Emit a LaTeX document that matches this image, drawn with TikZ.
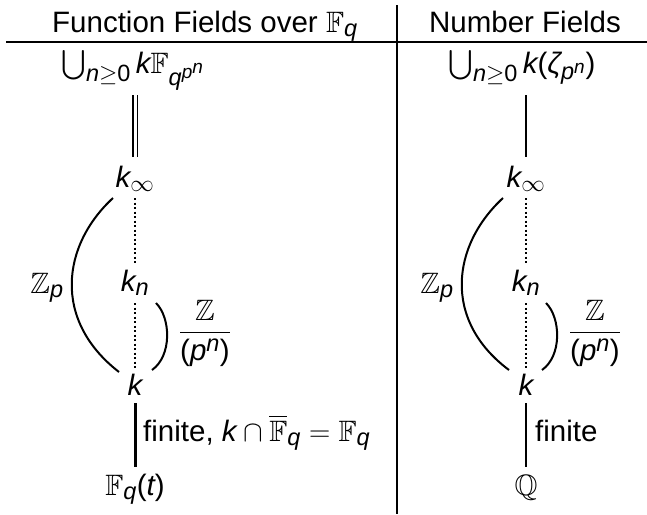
\RequirePackage{fix-cm}
\documentclass[tikz,border=0pt]{standalone}
\usepackage{amsmath,amssymb}
\usepackage{fontspec}
\setmainfont{Liberation Sans}
\DeclareMathSizes{29.5}{29.5}{23.5}{19}
\newcommand\iv[1]{\text{\itshape #1}}
\newcommand\up[1]{\text{\upshape #1}}
\begin{document}
\begin{tikzpicture}[x=1pt,y=-1pt,
  lbl/.style={font=\fontsize{29.5}{35}\selectfont, inner sep=0pt, anchor=base},
  toplbl/.style={lbl, text height=22pt, text depth=6pt},
  edge/.style={line width=2pt},
  dots/.style={line width=2pt, dash pattern=on 2pt off 2.5pt},
  dbl/.style={line width=1.8pt, double distance=3pt},
  rule/.style={line width=2.2pt}]
\useasboundingbox (0,0) rectangle (647,514);
% table rules
\node[lbl,anchor=base west] (hL) at (52,32) {Function Fields over $\mathbb{F}_{\iv{q}}$};
\node[lbl] (hR) at (525,32) {Number Fields};
\draw[rule] (6,42) -- (647,42);
\draw[line width=2pt] (397,5) -- (397,514);
% left column
\node[toplbl] (topL) at (133,73) {$\bigcup_{\iv{n}\geq\up{0}}\iv{k}\mathbb{F}_{\iv{q}^{\iv{p}^{\iv{n}}}}$};
\node[lbl] (kiL) at (135,187) {$\iv{k}_\infty$};
\node[lbl] (knL) at (135,291) {$\iv{k}_{\iv{n}}$};
\node[lbl] (kL) at (135,395) {$\iv{k}$};
\node[lbl] (FL) at (135,495) {$\mathbb{F}_{\iv{q}}\up{(}\iv{t}\up{)}$};
\node[lbl] (ZpL) at (47,293) {$\mathbb{Z}_{\iv{p}}$};
\node[lbl] (frL) at (205,340) {$\dfrac{\mathbb{Z}}{\up{(}\iv{p}^{\iv{n}}\up{)}}$};
\node[lbl,anchor=base west] (finL) at (143,441) {finite, $\iv{k}\cap\overline{\mathbb{F}}_{\iv{q}}=\mathbb{F}_{\iv{q}}$};
\draw[dbl] ([yshift=-22pt]kiL.base |- topL.base) -- ([yshift=30pt]kiL.base);
\draw[dots] ([yshift=-11pt]kiL.base) -- ([yshift=28pt]knL.base);
\draw[dots] ([yshift=-12pt]knL.base) -- ([yshift=27pt]kL.base);
\draw[line width=3pt] ([yshift=-8pt]kL.base) -- ([yshift=28pt]FL.base);
\draw[edge] ([shift={(-22pt,-11pt)}]kiL.base) .. controls (62,245) and (52,320) .. ([shift={(-16pt,23pt)}]kL.base);
\draw[edge] ([shift={(21pt,-12pt)}]knL.base) .. controls (171,318) and (172,356) .. ([shift={(17pt,25pt)}]kL.base);
% right column
\node[toplbl] (topR) at (522,73) {$\bigcup_{\iv{n}\geq\up{0}}\iv{k}\up{(}\iv{ζ}_{\iv{p}^{\iv{n}}}\up{)}$};
\node[lbl] (kiR) at (526,187) {$\iv{k}_\infty$};
\node[lbl] (knR) at (526,291) {$\iv{k}_{\iv{n}}$};
\node[lbl] (kR) at (526,395) {$\iv{k}$};
\node[lbl] (QR) at (526,495) {$\mathbb{Q}$};
\node[lbl] (ZpR) at (437,293) {$\mathbb{Z}_{\iv{p}}$};
\node[lbl] (frR) at (595,340) {$\dfrac{\mathbb{Z}}{\up{(}\iv{p}^{\iv{n}}\up{)}}$};
\node[lbl,anchor=base west] (finR) at (535,441) {finite};
\draw[edge] ([yshift=-22pt]kiR.base |- topR.base) -- ([yshift=30pt]kiR.base);
\draw[dots] ([yshift=-11pt]kiR.base) -- ([yshift=28pt]knR.base);
\draw[dots] ([yshift=-12pt]knR.base) -- ([yshift=27pt]kR.base);
\draw[line width=2.5pt] ([yshift=-8pt]kR.base) -- ([yshift=28pt]QR.base);
\draw[edge] ([shift={(-23pt,-11pt)}]kiR.base) .. controls (452,245) and (442,320) .. ([shift={(-17pt,25pt)}]kR.base);
\draw[edge] ([shift={(20pt,-12pt)}]knR.base) .. controls (561,318) and (562,356) .. ([shift={(16pt,25pt)}]kR.base);
\end{tikzpicture}
\end{document}
